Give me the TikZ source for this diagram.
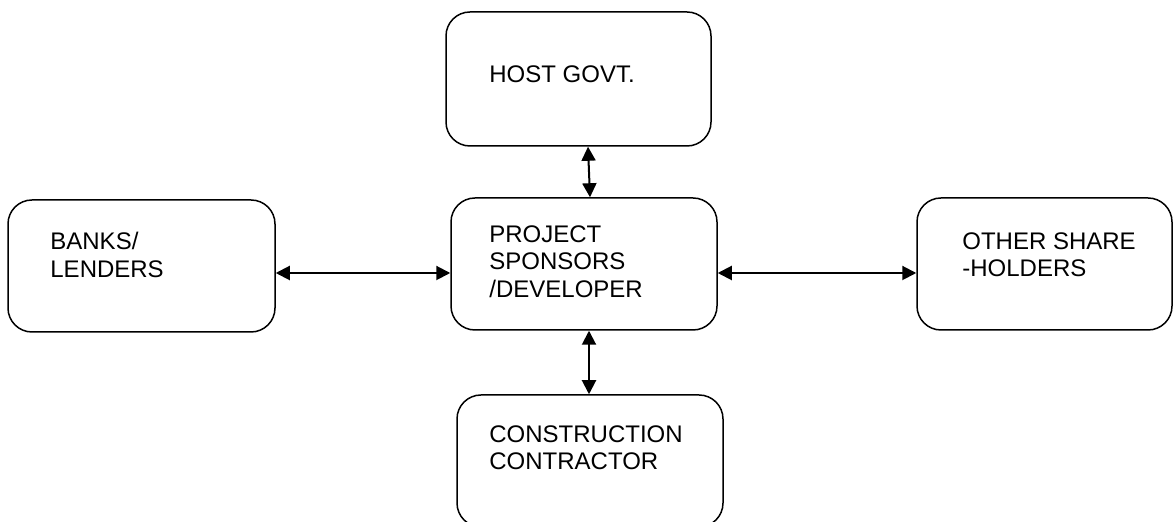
\documentclass[tikz,border=0pt]{standalone}
\usepackage{fontspec}
\setmainfont{Liberation Sans}
\usepackage{tikz}
\usetikzlibrary{arrows.meta,positioning}

\begin{document}
\begin{tikzpicture}[
    x=0.5pt, y=-0.5pt,
    font=\fontsize{12}{13.75}\selectfont,
    party/.style={draw, rounded corners=12pt, line width=0.75pt, minimum width=133pt, minimum height=66pt, inner sep=0pt},
    lbl/.style={anchor=north west, align=left, inner sep=0pt},
    arrow/.style={{Triangle[length=7pt, width=7pt]}-{Triangle[length=7pt, width=7pt]}, line width=1pt}
]
\useasboundingbox (0,0) rectangle (1173,522);

\node[party, minimum width=132.5pt, minimum height=67pt] (host) at (578.5,79) {};
\node[party, minimum width=133.5pt] (banks) at (141.5,266) {};
\node[party] (proj) at (584,264) {};
\node[party, minimum width=127.5pt] (other) at (1044.5,264) {};
\node[party] (constr) at (590,461) {};

\node[lbl] (hostlbl) at (489,65) {HOST GOVT.};
\node[lbl] (bankslbl) at (50,232) {BANKS/\\LENDERS};
\node[lbl] (projlbl) at (489,225) {PROJECT\\SPONSORS\\/DEVELOPER};
\node[lbl] (otherlbl) at (962,232) {OTHER SHARE\\-HOLDERS};
\node[lbl] (constrlbl) at (489,425) {CONSTRUCTION\\CONTRACTOR};

\draw[arrow] ([xshift=4.75pt]host.south) -- ([xshift=3pt]proj.north);
\draw[arrow] ([yshift=-3.5pt]banks.east) -- ([yshift=-4.5pt]proj.west);
\draw[arrow] ([yshift=-4.5pt]proj.east) -- ([yshift=-4.5pt]other.west);
\draw[arrow] ([xshift=2.5pt]proj.south) -- ([xshift=-0.5pt]constr.north);
\end{tikzpicture}
\end{document}
